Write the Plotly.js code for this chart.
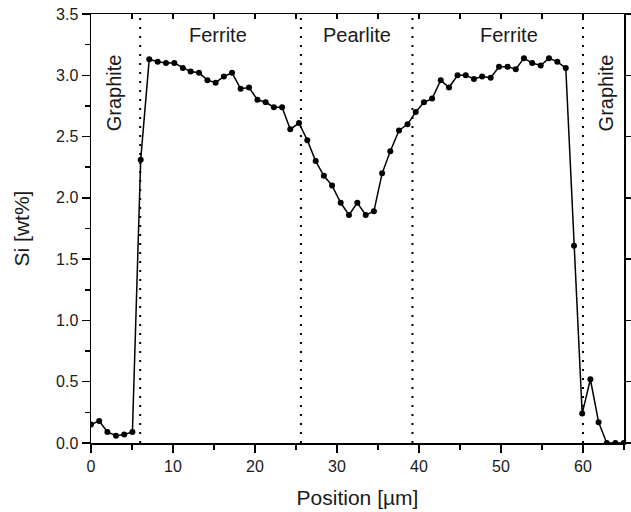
<!DOCTYPE html>
<html>
<head>
<meta charset="utf-8">
<script src="https://cdn.plot.ly/plotly-3.0.1.min.js"></script>
<style>html,body{margin:0;padding:0;background:#fff;}#chart{width:631px;height:512px;}</style>
</head>
<body>
<div id="chart"></div>
<script>
// Position [µm] of each measurement
const positions = [0.0, 1.0, 2.0, 3.05, 4.05, 5.05, 6.06, 7.1, 8.13, 9.15, 10.16, 11.2, 12.15, 13.17, 14.2, 15.2, 16.2, 17.2, 18.25, 19.27,
  20.3, 21.3, 22.3, 23.3, 24.3, 25.37, 26.38, 27.4, 28.4, 29.4, 30.45, 31.46, 32.48, 33.5, 34.5, 35.5, 36.5, 37.56, 38.6, 39.6,
  40.6, 41.6, 42.65, 43.66, 44.7, 45.7, 46.7, 47.7, 48.74, 49.76, 50.8, 51.8, 52.8, 53.8, 54.84, 55.85, 56.87, 57.9, 58.9, 59.9,
  60.9, 61.9, 62.9, 63.95, 64.97];
// Si content [wt%]
const siValues = [0.15, 0.18, 0.09, 0.06, 0.07, 0.09, 2.31, 3.13, 3.11, 3.10, 3.10, 3.06, 3.03, 3.02, 2.96, 2.94, 2.99, 3.02, 2.89, 2.90,
  2.80, 2.78, 2.74, 2.74, 2.56, 2.61, 2.47, 2.30, 2.18, 2.10, 1.96, 1.86, 1.96, 1.86, 1.89, 2.20, 2.38, 2.55, 2.60, 2.70,
  2.78, 2.81, 2.96, 2.90, 3.00, 3.00, 2.97, 2.99, 2.98, 3.07, 3.07, 3.05, 3.14, 3.10, 3.08, 3.14, 3.11, 3.06, 1.61, 0.24,
  0.52, 0.17, 0.0, 0.0, 0.0];
// Phase boundaries [µm]
const boundaries = [6.0, 25.6, 39.2, 60.0];
// Phase labels
const phaseLabels = ['Ferrite', 'Pearlite', 'Ferrite'];
const phaseLabelX = [15.5, 32.4, 51.0];
const graphiteLabels = ['Graphite', 'Graphite'];
const graphiteLabelX = [2.9, 62.8];

const FONT = 'Arial, "Liberation Sans", Helvetica, sans-serif';
const TXT = '#1a1a1a';

const traces = [
  {
    x: positions, y: siValues, type: 'scatter', mode: 'lines+markers',
    line: {color: '#000', width: 1.5},
    marker: {color: '#000', size: 6},
    cliponaxis: true, showlegend: false, hoverinfo: 'skip'
  },
  { x: [], y: [], xaxis: 'x2', yaxis: 'y2', type: 'scatter', showlegend: false }
];

const shapes = boundaries.map(b => ({
  type: 'line', xref: 'x', yref: 'paper', x0: b, x1: b, y0: 0, y1: 1,
  line: {color: '#000', width: 2, dash: '2px,7px'}
}));

const annotations = [];
phaseLabels.forEach((t, i) => annotations.push({
  text: t, x: phaseLabelX[i], y: 3.33, xref: 'x', yref: 'y', showarrow: false,
  font: {family: FONT, size: 20, color: TXT}
}));
graphiteLabels.forEach((t, i) => annotations.push({
  text: t, x: graphiteLabelX[i], y: 2.86, xref: 'x', yref: 'y', showarrow: false, textangle: -90,
  font: {family: FONT, size: 20, color: TXT}
}));

const layout = {
  width: 631, height: 512,
  margin: {l: 91, r: 7, t: 14, b: 69},
  paper_bgcolor: '#fff', plot_bgcolor: '#fff',
  font: {family: FONT, color: TXT},
  showlegend: false,
  xaxis: {
    range: [0, 65], tick0: 0, dtick: 10, ticks: 'outside', ticklen: 8, tickwidth: 1.5, tickcolor: '#000',
    minor: {dtick: 5, tick0: 0, ticks: 'outside', ticklen: 5, tickwidth: 1.5, tickcolor: '#000', showgrid: false},
    showline: true, linecolor: '#000', linewidth: 1.5, mirror: true,
    showgrid: false, zeroline: false,
    tickfont: {family: FONT, size: 16, color: TXT},
    title: {text: 'Position [µm]', font: {family: FONT, size: 21, color: TXT}, standoff: 16}
  },
  xaxis2: {
    overlaying: 'x', side: 'top', range: [0, 65], tick0: 0, dtick: 5,
    ticks: 'inside', ticklen: 5, tickwidth: 1.5, tickcolor: '#000',
    showticklabels: false, showline: false, showgrid: false, zeroline: false
  },
  yaxis: {
    range: [0, 3.5], tick0: 0, dtick: 0.5, tickformat: '.1f', ticks: 'outside', ticklen: 8, tickwidth: 1.5, tickcolor: '#000',
    minor: {dtick: 0.25, tick0: 0, ticks: 'outside', ticklen: 5, tickwidth: 1.5, tickcolor: '#000', showgrid: false},
    showline: true, linecolor: '#000', linewidth: 1.5, mirror: true,
    showgrid: false, zeroline: false,
    tickfont: {family: FONT, size: 16, color: TXT},
    title: {text: 'Si [wt%]', font: {family: FONT, size: 21, color: TXT}, standoff: 20}
  },
  yaxis2: {
    overlaying: 'y', side: 'right', range: [0, 3.5], tick0: 0, dtick: 0.5,
    ticks: 'outside', ticklen: 8, tickwidth: 1.5, tickcolor: '#000',
    showticklabels: false, showline: false, showgrid: false, zeroline: false
  },
  shapes: shapes,
  annotations: annotations
};

Plotly.newPlot('chart', traces, layout, {staticPlot: true, displayModeBar: false});
</script>
</body>
</html>
